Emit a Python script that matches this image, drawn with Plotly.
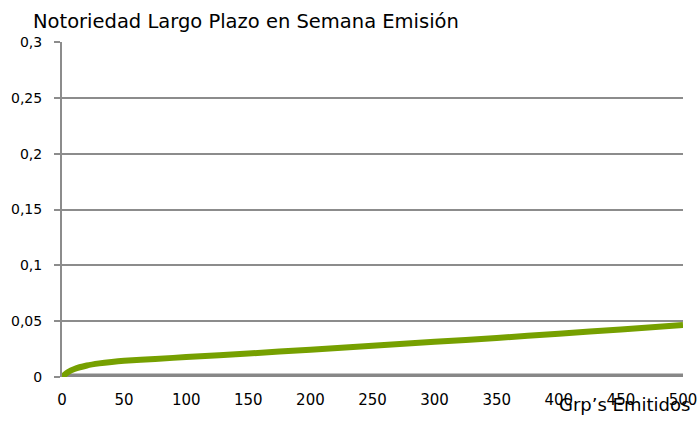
import plotly.graph_objects as go

grps = [0, 5, 10, 20, 30, 40, 50, 75, 100, 150, 200, 250, 300, 350, 400, 450, 500]
notoriedad = [0, 0.0045, 0.0072, 0.0103, 0.0122, 0.0135, 0.0145, 0.0162, 0.0178, 0.021, 0.0245,
              0.028, 0.0315, 0.035, 0.0388, 0.0425, 0.0465]
base_x = [0, 500]
base_y = [0, 0]

y_ticks = [0, 0.05, 0.1, 0.15, 0.2, 0.25, 0.3]
y_labels = ["0", "0,05", "0,1", "0,15", "0,2", "0,25", "0,3"]
x_ticks = [0, 50, 100, 150, 200, 250, 300, 350, 400, 450, 500]

fig = go.Figure()
fig.add_trace(go.Scatter(x=base_x, y=base_y, mode="lines",
                         line=dict(color="#878787", width=7), hoverinfo="skip"))
fig.add_trace(go.Scatter(x=grps, y=notoriedad, mode="lines",
                         line=dict(color="#76A000", width=6, shape="spline", smoothing=0.8)))

fig.update_layout(
    width=698, height=421,
    margin=dict(l=62, r=15, t=42, b=44, autoexpand=False),
    paper_bgcolor="white", plot_bgcolor="white",
    showlegend=False,
    font=dict(family="DejaVu Sans, Liberation Sans, sans-serif", size=14, color="#000000"),
    title=dict(text="Notoriedad Largo Plazo en Semana Emisión", x=33 / 698, xref="container",
               xanchor="left", y=1 - 21 / 421, yanchor="middle", yref="container",
               font=dict(size=19.5, color="#000000"), pad=dict(l=0, t=0, b=0)),
    xaxis=dict(range=[0, 500], tickvals=x_ticks, showgrid=False, zeroline=False,
               showline=False, ticks="outside", ticklen=9, tickcolor="rgba(0,0,0,0)",
               tickfont=dict(size=15), automargin=False),
    yaxis=dict(range=[0, 0.3], tickvals=y_ticks, ticktext=y_labels, showgrid=True,
               gridcolor="#8c8c8c", gridwidth=2, zeroline=False, showline=True,
               linecolor="#8c8c8c", linewidth=2, ticks="outside", ticklen=6,
               tickcolor="#8c8c8c", tickwidth=2, tickfont=dict(size=14),
               ticklabelstandoff=9, automargin=False),
    annotations=[dict(text="Grp’s Emitidos", x=1 + 9 / 621, xref="paper", xanchor="right",
                      y=0, yref="y", yanchor="middle", yshift=-27, showarrow=False,
                      font=dict(size=18, color="#000000"))],
)
fig.write_html("out.html")
